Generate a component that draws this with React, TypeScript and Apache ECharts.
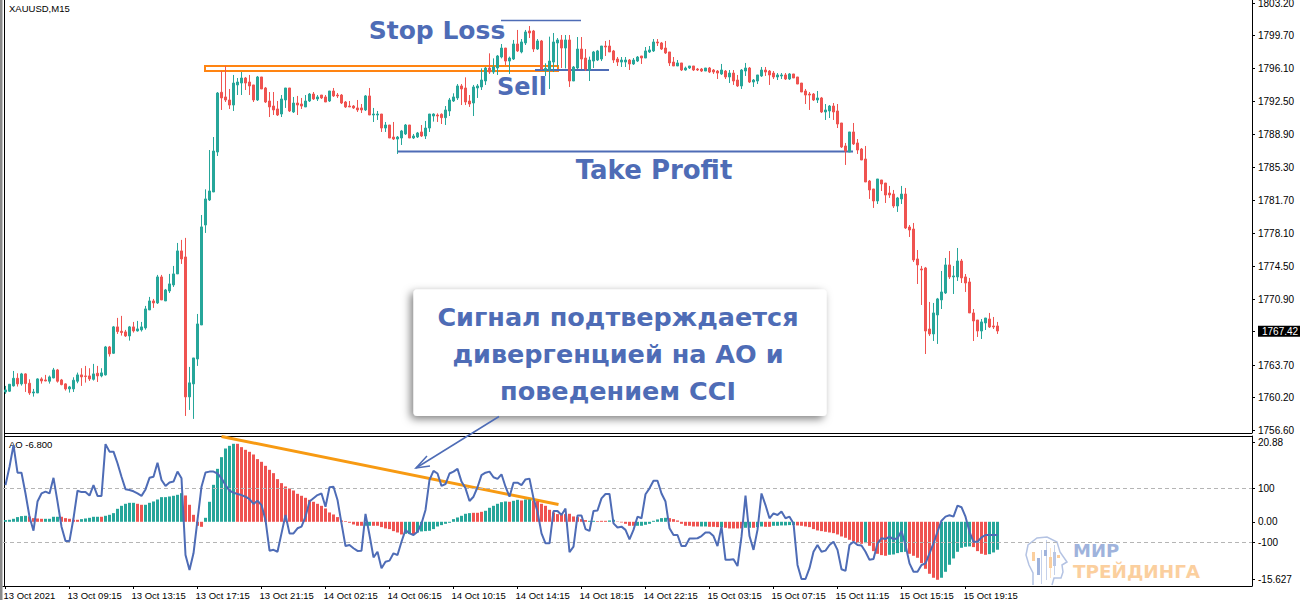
import React, { useEffect, useRef } from "react";
import * as echarts from "echarts";

const GREEN = "#26a69a";
const RED = "#ef5350";
const BLUE = "#4e6cb6";
const ORANGE = "#ff8412";

// rows: [up(1)/down(0), body top, body bottom, high, low]
const rallyBars = [
[1,1760.97,1760.75,1761.41,1760.54],[1,1761.59,1760.83,1761.59,1760.75],[1,1762.24,1761.41,1763.04,1761.34],[0,1762.24,1761.63,1762.79,1761.34],[1,1762.72,1761.63,1762.83,1761.44],
[0,1762.72,1761.66,1762.79,1760.75],[0,1761.70,1760.64,1762.13,1760.43],[1,1760.75,1760.64,1761.08,1760.24],[1,1762.17,1760.64,1762.24,1760.64],[0,1762.17,1761.95,1762.35,1761.66],
[0,1762.06,1761.95,1762.61,1761.92],[1,1762.39,1761.92,1762.54,1761.66],[1,1763.15,1762.28,1763.37,1762.24],[0,1763.15,1761.92,1763.26,1761.77],[0,1762.06,1761.55,1762.17,1761.48],
[0,1761.63,1761.08,1761.70,1760.90],[1,1761.30,1761.08,1761.41,1760.68],[1,1762.03,1761.08,1762.35,1760.75],[1,1762.61,1761.92,1762.86,1761.70],[0,1762.61,1762.39,1763.34,1761.41],
[0,1762.50,1762.43,1763.59,1761.77],[0,1762.50,1762.17,1763.34,1761.95],[1,1762.72,1762.13,1763.81,1761.99],[0,1762.79,1762.50,1763.59,1761.84],[1,1762.83,1762.50,1763.34,1762.35],
[1,1765.66,1762.61,1765.77,1762.54],[0,1765.66,1764.90,1765.77,1764.61],[1,1767.85,1764.97,1767.95,1764.90],[0,1767.85,1767.34,1768.83,1767.08],[0,1767.37,1767.23,1769.05,1766.90],
[0,1767.30,1766.86,1767.52,1766.75],[1,1767.85,1766.86,1767.95,1766.35],[0,1767.85,1767.41,1768.39,1767.23],[1,1767.63,1767.41,1768.50,1767.34],[1,1767.85,1767.52,1768.39,1767.34],
[1,1769.81,1767.74,1770.14,1767.55],[1,1770.68,1769.70,1771.12,1769.70],[0,1770.68,1770.46,1770.90,1769.92],[1,1773.30,1770.46,1773.52,1770.35],[0,1773.30,1770.79,1773.52,1770.79],
[1,1771.88,1770.68,1771.99,1770.68],[1,1772.54,1771.77,1773.63,1771.55],[1,1773.63,1772.43,1774.50,1772.21],[1,1776.14,1773.63,1777.01,1773.63],[0,1776.14,1775.26,1777.34,1774.72],
[0,1775.48,1760.21,1777.56,1758.13],[1,1761.74,1760.21,1763.48,1758.79],[1,1764.46,1761.63,1764.46,1757.81],[1,1768.17,1764.35,1769.26,1763.59],[1,1778.76,1768.06,1780.06,1768.06],
[1,1781.81,1778.97,1782.86,1778.10],[1,1782.68,1781.70,1787.15,1781.59],[1,1787.04,1782.57,1788.57,1782.57],[1,1793.37,1786.93,1793.48,1786.50],
];
const rangeBars = [
[0,1793.45,1792.83,1795.77,1791.52],[0,1792.94,1792.61,1796.32,1792.39],[0,1792.61,1792.06,1793.81,1791.63],[1,1794.46,1792.06,1795.34,1791.41],[1,1794.57,1794.25,1795.01,1793.15],
[1,1795.01,1794.46,1795.66,1793.15],[0,1795.01,1794.46,1795.12,1793.70],[0,1794.57,1794.14,1795.34,1793.15],[0,1794.25,1792.61,1794.25,1792.39],[1,1795.12,1792.61,1795.23,1792.50],
[0,1795.12,1793.81,1795.12,1793.81],[0,1793.92,1792.39,1794.03,1792.28],[0,1792.50,1791.85,1793.48,1790.75],[0,1791.95,1791.52,1793.48,1790.97],[0,1791.63,1790.97,1792.50,1790.86],
[1,1792.72,1791.08,1793.15,1790.75],[1,1793.92,1792.61,1793.92,1791.74],[0,1793.92,1791.41,1793.92,1791.30],[1,1792.28,1791.30,1792.94,1791.19],[0,1792.28,1792.06,1793.05,1790.97],
[0,1792.17,1791.95,1792.83,1791.63],[1,1792.50,1791.85,1793.15,1791.85],[1,1793.26,1792.50,1793.37,1792.39],[0,1793.26,1792.72,1793.48,1792.61],[1,1792.94,1792.72,1793.15,1792.50],
[0,1793.15,1792.83,1793.15,1792.72],[0,1792.94,1792.39,1793.15,1792.39],[1,1793.59,1792.50,1793.59,1792.39],[0,1793.59,1793.05,1793.92,1792.94],[0,1793.15,1793.05,1793.37,1792.83],
[0,1793.15,1792.28,1793.26,1792.17],[0,1792.39,1791.85,1792.50,1791.74],[0,1791.95,1791.85,1792.50,1791.85],[0,1791.95,1791.74,1792.06,1791.63],[0,1791.74,1791.52,1792.61,1791.30],
[0,1791.74,1791.52,1792.17,1791.19],[1,1793.05,1791.52,1793.15,1791.41],[0,1793.05,1790.97,1793.92,1790.97],[1,1791.08,1790.97,1791.74,1790.21],[1,1791.08,1790.97,1791.41,1790.43],
[0,1791.08,1789.55,1791.08,1789.12],[1,1789.88,1789.55,1790.21,1789.12],[0,1789.88,1788.46,1789.88,1788.46],[0,1788.57,1788.35,1790.21,1788.24],[1,1788.57,1788.35,1788.68,1786.72],
[1,1789.23,1788.46,1789.34,1787.70],[1,1789.88,1788.90,1789.99,1788.79],[0,1789.88,1788.46,1789.88,1788.46],[1,1788.68,1788.46,1788.90,1788.35],[1,1789.01,1788.57,1789.12,1788.46],
[0,1789.12,1788.68,1789.88,1788.57],[1,1789.55,1788.68,1790.32,1788.35],[1,1791.08,1789.55,1791.08,1789.12],
];
const topBars = [
[1,1791.08,1790.86,1791.15,1790.25],[0,1790.97,1790.86,1791.15,1790.21],[0,1791.05,1790.68,1791.15,1789.99],[1,1791.52,1790.68,1791.95,1789.88],[1,1792.61,1791.41,1792.83,1790.86],
[1,1792.94,1792.50,1793.34,1792.39],[1,1794.14,1792.83,1794.35,1792.61],[0,1794.14,1793.81,1794.35,1792.06],[0,1793.92,1792.39,1795.08,1792.06],[0,1792.50,1792.17,1793.15,1791.85],
[1,1794.03,1792.28,1794.25,1790.86],[1,1794.14,1793.92,1794.35,1792.83],[1,1794.79,1794.03,1796.06,1793.70],[1,1796.10,1794.68,1796.21,1794.25],[0,1796.10,1795.66,1797.70,1795.45],
[1,1796.21,1795.66,1797.15,1795.45],[1,1797.41,1796.10,1797.52,1795.34],[1,1798.28,1797.30,1798.72,1797.15],[0,1798.28,1796.86,1798.28,1796.43],[1,1797.19,1796.86,1797.34,1795.45],
[1,1798.72,1797.08,1799.16,1796.97],[0,1798.72,1797.96,1800.25,1797.85],[1,1798.94,1797.85,1799.26,1797.70],[1,1800.03,1798.83,1800.25,1798.61],[0,1800.14,1799.92,1800.68,1799.37],
[0,1800.14,1798.17,1800.25,1797.85],[1,1799.05,1798.17,1799.26,1798.07],[0,1799.05,1795.99,1799.16,1795.88],[1,1796.06,1795.81,1796.61,1795.23],[1,1796.86,1795.88,1799.52,1793.81],
[1,1798.94,1796.75,1799.92,1795.66],[1,1799.16,1798.83,1799.37,1796.25],[0,1799.16,1798.28,1799.70,1796.10],[1,1799.16,1798.28,1799.70,1796.06],[0,1799.16,1794.68,1799.70,1794.03],
[1,1796.21,1794.68,1796.32,1794.68],[1,1798.17,1796.10,1799.48,1795.99],[0,1798.17,1797.08,1799.48,1795.99],[0,1797.19,1795.99,1798.17,1795.77],[1,1796.97,1795.88,1797.34,1794.68],
[1,1797.85,1796.86,1797.96,1796.10],[1,1797.96,1796.97,1798.07,1796.86],[1,1798.50,1797.08,1798.50,1796.86],[0,1798.50,1798.39,1799.05,1797.41],[0,1798.50,1797.85,1799.16,1797.85],
[0,1797.96,1796.97,1798.07,1796.65],[0,1797.08,1796.75,1797.30,1796.32],[1,1796.97,1796.75,1797.30,1796.21],[1,1796.97,1796.75,1797.30,1796.21],[0,1796.97,1796.54,1797.08,1795.88],
[1,1796.97,1796.54,1797.19,1796.43],[1,1797.30,1796.86,1797.41,1796.75],[0,1797.41,1797.19,1797.41,1796.54],[1,1797.96,1797.19,1798.39,1797.19],[1,1798.07,1797.85,1798.50,1797.74],
[1,1798.94,1797.96,1799.26,1797.85],[0,1798.94,1798.83,1799.26,1798.50],[0,1798.83,1798.17,1798.94,1798.07],[0,1798.28,1797.74,1799.05,1797.63],
];
const plateauBars = [
[0,1797.85,1796.65,1797.85,1796.32],[0,1796.75,1796.32,1797.30,1796.32],[1,1796.65,1796.32,1796.97,1796.32],[0,1796.65,1795.88,1796.65,1795.77],[1,1796.10,1795.88,1796.25,1795.81],
[1,1796.32,1796.10,1796.32,1795.99],[0,1796.32,1795.88,1796.32,1795.77],[0,1795.99,1795.88,1796.10,1795.77],[0,1795.99,1795.77,1796.10,1795.66],[1,1796.10,1795.77,1796.10,1795.77],
[0,1796.10,1795.66,1796.21,1795.55],[0,1795.88,1795.66,1795.99,1795.45],[0,1795.77,1795.55,1795.88,1794.90],[1,1795.88,1795.45,1796.54,1795.34],[0,1795.77,1795.12,1795.88,1794.90],
[1,1795.55,1795.12,1795.88,1794.46],[0,1795.55,1794.68,1795.88,1794.25],[0,1794.79,1794.14,1795.34,1794.03],[1,1795.88,1794.14,1795.99,1793.81],[1,1796.10,1795.77,1796.65,1795.23],
[0,1796.10,1794.57,1796.21,1794.46],[1,1794.79,1794.57,1794.90,1794.03],[1,1795.34,1794.68,1795.34,1794.35],[1,1795.88,1795.23,1796.21,1795.12],[0,1795.88,1795.66,1796.21,1795.23],
[0,1795.77,1795.34,1795.88,1794.25],[0,1795.55,1795.12,1795.77,1794.90],[1,1795.34,1795.12,1795.55,1794.79],[1,1795.34,1795.23,1795.55,1794.90],[0,1795.34,1794.90,1795.55,1794.79],
[1,1795.45,1794.90,1795.55,1794.79],[0,1795.45,1795.01,1795.45,1795.01],
];
const declineBars = [
[0,1795.12,1794.35,1795.12,1794.35],[0,1794.46,1793.48,1794.46,1793.48],[0,1793.59,1793.15,1793.81,1792.17],[0,1793.26,1793.15,1793.48,1791.52],[0,1793.26,1792.61,1793.37,1792.50],
[1,1792.83,1792.61,1793.59,1792.28],[0,1792.83,1791.30,1792.94,1791.19],[1,1791.52,1791.30,1792.17,1790.43],[1,1791.95,1791.41,1792.06,1790.64],[0,1791.95,1791.30,1792.28,1790.43],
[0,1791.41,1789.99,1792.17,1789.55],[0,1790.10,1787.48,1790.10,1787.37],[0,1787.59,1787.04,1787.92,1785.52],[1,1789.12,1786.93,1789.12,1786.93],[0,1789.12,1787.81,1790.10,1787.70],
[0,1787.92,1787.15,1788.35,1786.72],[0,1787.26,1786.06,1787.37,1786.06],[0,1786.17,1783.66,1787.59,1783.66],[0,1783.77,1782.79,1783.88,1781.81],[0,1782.90,1781.59,1782.90,1780.83],
[1,1783.99,1781.59,1783.99,1781.26],[0,1783.88,1783.44,1783.88,1782.68],[0,1783.55,1782.24,1783.55,1781.37],[0,1782.46,1782.24,1783.23,1781.92],[0,1782.35,1781.04,1782.79,1780.83],
[1,1781.92,1781.04,1782.03,1780.39],[1,1782.35,1781.81,1783.23,1781.26],[0,1782.35,1778.64,1783.01,1778.53],[0,1778.75,1778.42,1778.97,1777.66],[0,1778.53,1775.15,1779.19,1774.93],
[0,1775.26,1774.61,1776.24,1772.53],[0,1774.17,1774.06,1774.50,1770.24],[0,1774.28,1767.40,1774.39,1764.89],[0,1767.62,1767.08,1770.57,1766.86],[1,1769.37,1767.08,1770.46,1766.31],
[1,1770.90,1769.15,1771.01,1765.99],[1,1771.66,1770.79,1773.95,1769.80],[1,1774.61,1771.55,1775.37,1771.44],[0,1774.61,1773.30,1776.13,1773.08],[1,1773.41,1773.30,1774.50,1771.44],
[1,1775.04,1773.30,1776.46,1772.86],[0,1775.04,1773.19,1775.26,1772.64],[0,1773.30,1772.64,1773.62,1771.66],[0,1772.75,1769.37,1773.19,1769.37],[0,1769.37,1768.50,1769.80,1766.31],
[0,1768.60,1767.40,1768.60,1766.75],[1,1768.39,1767.40,1768.71,1766.53],[1,1768.82,1768.28,1768.82,1767.51],[0,1768.71,1767.84,1769.37,1767.73],[0,1767.95,1767.84,1768.93,1767.62],
[0,1767.95,1767.40,1768.39,1767.08],
];

const aoValues = [
0.41,0.49,0.73,1.14,1.38,1.46,1.30,0.89,0.81,0.73,0.73,0.73,1.22,1.22,1.22,0.89,0.73,0.49,0.49,0.65,
0.81,0.97,1.22,1.22,1.22,1.46,1.70,2.11,3.16,3.89,4.38,4.62,4.62,4.38,4.14,4.14,4.62,4.95,5.43,6.00,
6.00,6.16,6.33,6.57,6.97,6.41,4.14,1.70,-0.97,-1.22,0.97,4.87,9.00,12.89,15.73,17.84,18.49,18.98,18.98,18.17,
17.52,17.03,16.38,15.25,14.60,13.62,12.65,11.84,10.38,9.41,8.60,8.11,7.62,6.81,6.33,5.84,5.35,4.87,4.38,3.89,
3.24,2.27,1.78,1.14,0.32,0.16,-0.24,-0.65,-0.97,-0.97,-0.97,-0.97,-0.97,-0.97,-1.30,-1.62,-1.78,-2.27,-2.60,-3.08,
-2.92,-2.92,-3.08,-2.60,-2.35,-2.27,-2.19,-1.78,-1.14,-0.81,-0.49,-0.24,0.65,1.05,1.46,1.95,2.11,2.19,2.19,2.43,
2.68,3.41,3.89,4.38,4.78,4.95,4.87,5.11,5.35,5.19,5.43,5.43,5.11,5.03,4.38,3.89,2.92,2.27,1.87,1.87,
1.87,1.95,1.30,1.14,0.65,0.41,0.24,0.24,0.16,0.24,0.24,0.32,0.49,0.08,-0.16,-0.49,-0.97,-0.97,-0.97,-0.97,
-0.73,-0.49,0.24,0.57,0.89,0.97,0.89,0.65,0.32,-0.49,-0.97,-0.97,-1.14,-1.14,-1.14,-1.14,-1.22,-1.22,-1.30,-1.30,
-1.46,-1.62,-1.62,-1.62,-1.62,-1.46,-1.46,-1.46,-1.30,-1.14,-1.22,-1.22,-0.97,-0.97,-0.89,-0.89,-0.81,-0.81,-0.89,-0.97,
-1.14,-1.30,-1.78,-2.11,-2.27,-2.43,-2.60,-2.76,-3.08,-3.57,-3.89,-4.38,-4.70,-5.19,-5.35,-5.19,-5.84,-7.14,-7.79,-8.11,
-8.27,-8.03,-7.95,-7.62,-7.38,-7.30,-7.79,-8.27,-8.76,-10.06,-11.44,-12.65,-13.62,-14.11,-13.62,-12.17,-10.46,-8.92,-7.30,-6.33,
-6.08,-6.00,-6.16,-7.14,-7.79,-8.03,-7.87,-7.46,-6.80,
];
const aoColourRuns: [string, number][] = [
["G",6],["R",4],["G",4],["R",5],["G",5],["R",1],["G",8],["R",2],["G",10],["R",5],["G",8],["R",32],["G",2],["R",8],["G",2],["R",1],["G",14],["R",3],["G",6],["R",1],["G",2],["R",1],["G",2],["R",14],["G",2],["R",3],["G",2],["R",5],["G",8],["R",8],["G",2],["R",3],["G",1],["R",5],["G",2],["R",1],["G",2],["R",2],["G",6],["R",17],["G",1],["R",5],["G",5],["R",8],["G",8],["R",4],["G",3],
];
const cciValues = [
112,180,260,158,158,81,-5,-57,51,81,88,81,139,51,-42,-95,-95,-11,91,86,
86,73,112,72,72,264,236,236,193,143,97,94,89,81,72,96,139,143,195,131,
109,122,125,162,137,-147,-203,-141,-17,106,159,162,162,155,137,112,91,84,79,75,
69,60,42,54,38,-17,-131,-128,-135,-67,1,-67,-67,-48,-42,-5,51,63,75,81,
32,104,106,57,-30,-114,-110,-122,-132,-131,5,-73,-156,-135,-196,-172,-168,-141,-147,-98,
-54,-67,-73,-61,-30,20,131,165,155,109,116,155,162,172,125,100,53,69,104,149,
158,162,141,135,152,106,69,121,121,112,133,136,63,14,-67,-104,-104,16,16,1,
25,-137,-116,-1,-1,-51,-58,16,18,63,79,79,-30,-45,-42,-54,-89,-54,-5,-11,
78,100,128,128,81,51,-48,-73,-73,-114,-114,-86,-86,-85,-77,-64,-64,-77,-114,-42,
-165,-165,-163,-188,-79,73,-77,-128,-54,81,38,-11,7,1,14,-11,-5,-30,-184,-236,
-236,-196,-135,-110,-135,-131,-110,-98,-128,-200,-206,-110,-98,-110,-112,-135,-165,-162,-104,-85,
-88,-79,-89,-85,-58,-110,-178,-209,-209,-184,-178,-141,-104,-61,-20,-5,0,-5,36,30,
-5,-61,-98,-98,-82,-73,-73,-73,-73,
];
const timeLabels = [
"13 Oct 2021","13 Oct 09:15","13 Oct 13:15","13 Oct 17:15","13 Oct 21:15","14 Oct 02:15","14 Oct 06:15","14 Oct 10:15",
"14 Oct 14:15","14 Oct 18:15","14 Oct 22:15","15 Oct 03:15","15 Oct 07:15","15 Oct 11:15","15 Oct 15:15","15 Oct 19:15",
];
const priceTicks = [1803.2,1799.7,1796.1,1792.5,1788.9,1785.3,1781.7,1778.1,1774.5,1770.9,1767.42,1763.7,1760.2,1756.6];
const lastPrice = 1767.42;
// the top and bottom scale labels sit just inside the pane, as in the terminal
const aoLabelSpots = [19.25, 0, -14.09];
const aoLabelTexts = ["20.88", "0.00", "-15.627"];
const cciLevels = [100, -100];

const BARS_PER_LABEL = 16;
const X_MIN = -0.625;
const X_MAX = 311.625;
const axisFont = "Liberation Sans";
const headFont = "DejaVu Sans";

const bars = [...rallyBars, ...rangeBars, ...topBars, ...plateauBars, ...declineBars];
const candleData = bars.map(([up, top, bottom, high, low], i) =>
  up ? [i, bottom, top, low, high] : [i, top, bottom, low, high]);
const aoColours = aoColourRuns.flatMap(([c, n]) => Array(n).fill(c));
const aoData = aoValues.map((v, i) => [i, v]);
const cciData = cciValues.map((v, i) => [i, v]);
const timeTicks = timeLabels.map((_, i) => i * BARS_PER_LABEL);

const headOutline = [[1033,585],[1033,573],[1029,565],[1026,555],[1028,545],[1037,538],[1047,537],[1057,542],[1060,552],[1067,562],[1062,565],[1063,572],[1061,578],[1054,578],[1052,585]];
const logoCandles: [number, number, number, string][] = [
  [1032,552,9,"#fbcf9e"],[1037,558,17,"#9fb3dc"],[1044,550,6,"#9fb3dc"],[1049,557,11,"#fbcf9e"],[1053,552,14,"#b9c7e6"],[1057,555,3,"#fbcf9e"],
];
const logoWicks: [number, number, number, string][] = [
  [1041,550,34,"#c5d1ea"],[1046,540,40,"#c5d1ea"],[1050,548,30,"#fde3c6"],[1054,545,30,"#c5d1ea"],
];

function annotations() {
  const text = (t: string, x: number, y: number, size: number, fill = BLUE) => ({
    type: "text", x, y, style: { text: t, fill, font: `700 ${size}px "${headFont}"`, textAlign: "center", textVerticalAlign: "middle" },
  });
  const seg = (x1: number, y1: number, x2: number, y2: number, stroke: string, lineWidth: number) => ({
    type: "line", shape: { x1, y1, x2, y2 }, style: { stroke, lineWidth },
  });
  const small = (t: string, x: number, y: number) => ({
    type: "text", x, y, style: { text: t, fill: "#000", font: `9.5px "${axisFont}"`, textAlign: "left", textVerticalAlign: "middle" },
  });
  return [
    { type: "rect", shape: { x: 0, y: 0, width: 2.5, height: 600 }, style: { fill: "#8a8a8a" } },
    seg(4.5, 0, 4.5, 587, "#000", 1),
    seg(4.5, 433.5, 1252, 433.5, "#000", 1),
    seg(4.5, 436.5, 1252, 436.5, "#000", 1),
    small("XAUUSD,M15", 9, 8),
    small("AO -6.800", 9, 444.5),
    { type: "rect", shape: { x: 205, y: 66, width: 353, height: 5 }, style: { fill: "none", stroke: ORANGE, lineWidth: 2 } },
    seg(501, 20.5, 581, 20.5, BLUE, 1.5),
    seg(535, 70, 609, 70, BLUE, 2),
    seg(397, 151.5, 853, 151.5, BLUE, 2),
    text("Stop Loss", 437, 30, 25),
    text("Sell", 522, 87, 24),
    text("Take Profit", 654, 170, 26),
    seg(221.5, 436.5, 558.5, 504.5, "#f79a12", 3),
    { type: "rect", shape: { x: 413.5, y: 289.5, width: 413, height: 126.5, r: 4 },
      style: { fill: "#fff", shadowBlur: 8, shadowColor: "rgba(0,0,0,0.5)", shadowOffsetX: -3, shadowOffsetY: 3 } },
    text("Сигнал подтверждается", 618, 317, 25.5),
    text("дивергенцией на АО и", 618, 354, 25.5),
    text("поведением CCI", 618, 391, 25.5),
    seg(499, 416.5, 416, 468, BLUE, 1.5),
    { type: "polyline", shape: { points: [[427, 456], [416, 468], [430, 466]] }, style: { fill: "none", stroke: BLUE, lineWidth: 1.5 } },
    { type: "polyline", shape: { points: headOutline }, style: { fill: "none", stroke: "#b4c3e3", lineWidth: 1.5 } },
    ...logoWicks.map(([x, y, h, fill]) => ({ type: "rect", shape: { x, y, width: 1, height: h }, style: { fill } })),
    ...logoCandles.map(([x, y, h, fill]) => ({ type: "rect", shape: { x, y, width: 3, height: h }, style: { fill } })),
    { type: "text", x: 1073, y: 550, style: { text: "МИР", fill: "#9fb3dc", font: `700 18px "${headFont}"`, textVerticalAlign: "middle" } },
    { type: "text", x: 1073, y: 571, style: { text: "ТРЕЙДИНГА", fill: "#fbcf9e", font: `700 18.4px "${headFont}"`, textVerticalAlign: "middle" } },
  ];
}

export default function App() {
  const ref = useRef<HTMLDivElement>(null);
  useEffect(() => {
    const chart = echarts.init(ref.current!, null, { renderer: "svg" });
    const labelStyle = { color: "#000", fontFamily: axisFont, fontSize: 10, margin: 6, align: "left", padding: [1, 0, 0, 0] };
    chart.setOption({
      animation: false,
      backgroundColor: "#fff",
      grid: [
        { left: 3, top: 0, width: 1249, height: 433, outerBoundsMode: "none" },
        { left: 3, top: 436, width: 1249, height: 150, outerBoundsMode: "none" },
      ],
      xAxis: [
        { type: "value", gridIndex: 0, min: X_MIN, max: X_MAX, axisLabel: { show: false }, axisTick: { show: false },
          axisLine: { show: false, onZero: false }, splitLine: { show: false } },
        { type: "value", gridIndex: 1, min: X_MIN, max: X_MAX, position: "bottom",
          axisLine: { show: true, onZero: false, lineStyle: { color: "#000", width: 1 } },
          axisTick: { show: true, length: 3, customValues: timeTicks, lineStyle: { color: "#000" } },
          axisLabel: { color: "#000", fontFamily: axisFont, fontSize: 9.5, align: "left", margin: 4, padding: [0, 0, 0, -2],
            customValues: timeTicks, formatter: (v: number) => timeLabels[v / BARS_PER_LABEL], hideOverlap: false },
          splitLine: { show: false } },
      ],
      yAxis: [
        { type: "value", gridIndex: 0, position: "right", min: 1756.27, max: 1803.52, splitLine: { show: false },
          axisLine: { show: true, onZero: false, lineStyle: { color: "#000", width: 1 } },
          axisTick: { show: true, length: 3, customValues: priceTicks, lineStyle: { color: "#000" } },
          axisLabel: { ...labelStyle, customValues: priceTicks,
            formatter: (v: number) => v === lastPrice ? `{cur|${v.toFixed(2)}}` : v.toFixed(2),
            rich: { cur: { color: "#fff", backgroundColor: "#000", padding: [1, 2, 0, 4], fontFamily: axisFont, fontSize: 10 } } } },
        { type: "value", gridIndex: 1, position: "right", min: -15.627, max: 20.88, splitLine: { show: false },
          axisLine: { show: true, onZero: false, lineStyle: { color: "#000", width: 1 } },
          axisTick: { show: true, length: 3, customValues: aoLabelSpots, lineStyle: { color: "#000" } },
          axisLabel: { ...labelStyle, customValues: aoLabelSpots,
            formatter: (v: number) => aoLabelTexts[aoLabelSpots.indexOf(v)] } },
        { type: "value", gridIndex: 1, position: "right", min: -262, max: 294, splitLine: { show: false },
          axisLine: { show: false, onZero: false },
          axisTick: { show: true, length: 3, customValues: cciLevels, lineStyle: { color: "#000" } },
          axisLabel: { ...labelStyle, customValues: cciLevels, formatter: (v: number) => String(v) } },
      ],
      series: [
        { type: "candlestick", layout: "horizontal", xAxisIndex: 0, yAxisIndex: 0, data: candleData, barWidth: 2,
          encode: { x: 0, y: [1, 2, 3, 4] },
          itemStyle: { color: GREEN, color0: RED, borderColor: GREEN, borderColor0: RED, borderWidth: 1 } },
        { type: "bar", name: "AO", xAxisIndex: 1, yAxisIndex: 1, data: aoData, barWidth: 3,
          itemStyle: { color: (p: any) => (aoColours[p.dataIndex] === "G" ? GREEN : RED) } },
        { type: "line", name: "CCI", xAxisIndex: 1, yAxisIndex: 2, data: cciData, symbol: "none", z: 5,
          lineStyle: { color: BLUE, width: 2 },
          markLine: { silent: true, symbol: "none", label: { show: false }, animation: false,
            lineStyle: { color: "#b5b5b5", type: [4, 3], width: 1 }, data: cciLevels.map((yAxis) => ({ yAxis })) } },
      ],
      graphic: annotations(),
    });
    return () => chart.dispose();
  }, []);
  return <div ref={ref} style={{ position: "fixed", left: 0, top: 0, width: 1300, height: 600 }} />;
}
